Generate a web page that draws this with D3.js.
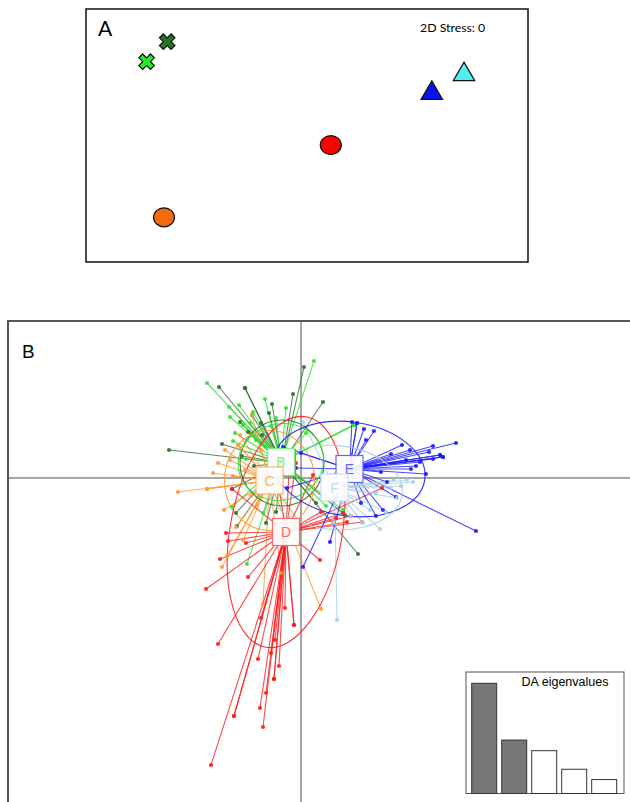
<!DOCTYPE html>
<html>
<head>
<meta charset="utf-8">
<script src="https://cdn.jsdelivr.net/npm/d3@7"></script>
<style>
  body { margin: 0; background: #fff; }
  svg { display: block; }
</style>
</head>
<body>
<div id="chart"></div>
<script>
(function () {

  // ---- panel A: NMDS of group centroids ----
  var nmdsSites = ['A', 'B', 'C', 'D', 'E', 'F'];
  var nmds1 = [-0.699, -0.802, -0.715, 0.119, 0.624, 0.785];
  var nmds2 = [0.469, 0.369, -0.409, -0.048, 0.211, 0.305];
  var nmdsStress = 0;

  // ---- panel B: DAPC scatter ----
  var groups = ['A', 'B', 'C', 'D', 'E', 'F'];
  var centroidLD1 = [-1.9, -2.0, -3.15, -1.5, 4.85, 3.35];
  var centroidLD2 = [1.5, 1.6, -0.25, -5.4, 0.9, -0.95];

  // individual scores per group, [LD1, LD2]
  var scoresA = [[-8.2, 9.1], [-5.6, 9.0], [-2.9, 7.4], [0.3, 11.1], [2.2, 7.6], [-13.2, 2.8],
    [5.7, -7.6], [-6.4, -4.8], [-6.9, -1.1], [-7.9, 3.4], [-4.9, 6.3], [-6.5, -3.5],
    [-5.3, 4.6], [-6.1, 5.6], [-3.9, 4.3], [4.4, -3.7], [-4.0, 5.5], [-3.2, 6.5], [-5.9, 2.2],
    [-4.7, 1.2], [-2.5, -3.4], [1.5, -2.5], [-0.8, 8.4], [-3.5, -4.5], [-5.6, 9.0]];
  var scoresB = [[1.3, 11.7], [-9.4, 9.5], [-7.2, 7.1], [-6.2, 7.3], [-7.1, 6.1], [-6.8, 3.7],
    [-2.5, 6.0], [5.3, 5.3], [5.3, 5.3], [-6.9, -2.9], [-5.4, -8.6], [-5.8, 5.3], [-4.5, 3.8],
    [4.2, -3.2], [-5.1, 5.5], [-3.6, 7.9], [-4.8, 6.6], [-6.6, 4.5], [-3.0, 5.2], [-5.5, 1.9],
    [-3.8, -3.5], [0.5, 4.5], [2.5, -2.8], [-1.5, 7.0], [5.3, 5.3]];
  var scoresC = [[-12.3, -1.4], [-9.4, -1.1], [-8.3, 1.5], [-7.1, 1.8], [-7.9, -8.9], [-3.8, -12.6],
    [2.0, -13.1], [-4.4, -2.7], [-6.3, 3.3], [-4.9, 6.3], [-7.4, -7.8], [-6.5, -4.9],
    [-5.6, 0.8], [-7.6, 2.8], [-6.1, 4.3], [-0.3, -4.2], [-6.8, 0.2], [-5.0, -1.8], [-7.7, -3.2],
    [-5.8, -6.2], [-2.0, -9.5], [-6.0, 3.0], [-4.0, 2.8], [-8.8, 0.5], [-9.4, -1.1]];
  var scoresD = [[-8.3, -16.6], [-4.3, -18.1], [-2.7, -20.1], [-0.7, -14.7], [-6.7, -23.8],
    [-4.1, -23.0], [-3.8, -24.9], [-9.0, -28.7], [-7.3, -6.3], [-8.1, -8.1], [-5.3, -9.9],
    [-9.5, -11.1], [1.9, -8.2], [4.6, -4.4], [6.1, -4.4], [4.2, -3.5], [8.1, -1.0], [1.2, 0.3],
    [-1.1, 2.8], [-2.5, 0.8], [-6.9, -1.1], [-2.6, -16.2], [-2.7, -20.1], [-3.0, -17.5],
    [-2.2, -18.8], [-3.5, -21.5], [-1.6, -13.0], [-5.5, -6.5], [-7.5, -5.5], [3.5, -4.0],
    [2.0, -3.4], [-0.5, 1.5], [5.0, -3.8], [-4.0, -14.0], [-0.7, -14.7], [-6.7, -23.8]];
  var scoresE = [[5.1, 5.6], [5.6, 5.5], [6.3, 4.9], [7.3, 4.7], [10.1, 3.3], [13.2, 3.2],
    [15.5, 3.5], [13.9, 2.3], [14.2, 2.1], [13.2, 1.9], [12.5, 0.4], [8.6, -0.4], [9.5, -1.9],
    [8.2, -3.2], [17.5, -5.3], [0.2, -8.9], [2.9, -6.4], [-1.8, 3.1], [-1.4, -1.0], [10.9, 2.8],
    [11.9, 1.6], [10.5, 1.8], [11.5, 1.2], [12.8, 2.6], [9.0, 2.4], [6.0, -2.5], [7.5, -3.8],
    [3.5, -2.0], [0.0, 2.5], [-0.5, 1.0], [8.0, 0.6], [11.0, 0.9], [6.5, 3.8], [13.9, 2.3],
    [5.6, 5.5], [14.2, 2.1]];
  var scoresF = [[3.6, -14.2], [7.9, -5.1], [6.1, -4.4], [11.2, -0.4], [10.6, -0.2], [0.2, 5.6],
    [9.6, -2.0], [6.2, -4.5], [3.2, -4.5], [9.3, -0.2], [6.9, -3.2], [7.5, -1.5], [8.5, -3.4],
    [5.0, -3.8], [9.0, -1.0], [4.0, -2.5], [10.0, -0.8], [2.0, -2.0]];
  var scores = [scoresA, scoresB, scoresC, scoresD, scoresE, scoresF];

  // 95% inertia ellipses: semi-axes (LD units) and rotation (degrees)
  var ellipseAxis1 = [4.2, 4.3, 4.5, 5.6, 7.6, 6.8];
  var ellipseAxis2 = [4.3, 3.8, 5.0, 11.7, 4.7, 4.2];
  var ellipseAngle = [0, -15, 0, 10, 8, 5];

  var eigenvalues = [33.2, 16.1, 12.9, 7.3, 4.2];
  var eigenRetained = 2;

  var colorsA = ['#267326', '#22ee22', '#f26b10', '#ff0000', '#0a14e8', '#55eeee'];
  var colorsB = ['#2f6f2f', '#33e033', '#ff9933', '#ff1a1a', '#1a1aff', '#a6cee3'];
  var labelColors = ['#6f9f6f', '#7fee7f', '#ffb366', '#ff6666', '#6666ee', '#c4dff0'];

  var width = 630, height = 802;

  var svg = d3.select('#chart')
    .append('svg')
    .attr('width', width)
    .attr('height', height)

  // ================= panel A =================
  var boxA = { left: 86, top: 9, right: 528, bottom: 262 };

  var xA = d3.scaleLinear().domain([-1.105, 1.105]).range([boxA.left, boxA.right])
  var yA = d3.scaleLinear().domain([-0.6325, 0.6325]).range([boxA.bottom, boxA.top])

  var gA = svg.append('g')

  gA.append('rect')
    .attr('x', boxA.left)
    .attr('y', boxA.top)
    .attr('width', boxA.right - boxA.left)
    .attr('height', boxA.bottom - boxA.top)
    .attr('fill', 'white')
    .attr('stroke', '#111')
    .attr('stroke-width', 1.5)

  gA.append('text')
    .attr('x', 98)
    .attr('y', 36)
    .attr('font-family', 'Lato, "Open Sans", sans-serif')
    .attr('font-size', 21)
    .text('A')

  gA.append('text')
    .attr('x', 420)
    .attr('y', 32)
    .attr('font-family', 'Lato, "Open Sans", sans-serif')
    .attr('font-size', 12.3)
    .text('2D Stress: ' + nmdsStress)

  var shapeA = [d3.symbolCross, d3.symbolCross, null, null, d3.symbolTriangle, d3.symbolTriangle]

  gA.selectAll('.site')
    .data(nmdsSites)
    .enter()
    .each(function (d, i) {
      var g = d3.select(this)
      var cx = xA(nmds1[i]), cy = yA(nmds2[i])
      if (shapeA[i] === null) {
        g.append('ellipse')
          .attr('cx', cx).attr('cy', cy)
          .attr('rx', 10.5).attr('ry', 9.5)
          .attr('fill', colorsA[i])
          .attr('stroke', '#111')
          .attr('stroke-width', 1.2)
      } else {
        g.append('path')
          .attr('d', d3.symbol().type(shapeA[i]).size(shapeA[i] === d3.symbolCross ? 150 : 200)())
          .attr('transform', 'translate(' + cx + ',' + cy + ')' + (shapeA[i] === d3.symbolCross ? ' rotate(45)' : ''))
          .attr('fill', colorsA[i])
          .attr('stroke', '#111')
          .attr('stroke-width', 1.2)
      }
    })

  // ================= panel B =================
  var boxB = { left: 8, top: 321 };

  var xB = d3.scaleLinear().domain([-29.3, 32.9]).range([8, 630])
  var yB = d3.scaleLinear().domain([-32.4, 15.7]).range([802, 321])
  var unit = xB(1) - xB(0)

  svg.append('clipPath')
    .attr('id', 'clipB')
    .append('rect')
    .attr('x', boxB.left).attr('y', boxB.top)
    .attr('width', width - boxB.left).attr('height', height - boxB.top)

  var gB = svg.append('g').attr('clip-path', 'url(#clipB)')

  // axes through the origin
  gB.append('line')
    .attr('x1', xB(0)).attr('x2', xB(0))
    .attr('y1', boxB.top).attr('y2', height)
    .attr('stroke', '#8a8a8a').attr('stroke-width', 1.5)
  gB.append('line')
    .attr('x1', boxB.left).attr('x2', width)
    .attr('y1', yB(0)).attr('y2', yB(0))
    .attr('stroke', '#8a8a8a').attr('stroke-width', 1.5)

  // star lines from centroid to each individual
  groups.forEach(function (grp, i) {
    var cx = xB(centroidLD1[i]), cy = yB(centroidLD2[i])
    gB.append('g')
      .selectAll('line')
      .data(scores[i])
      .enter().append('line')
      .attr('x1', cx).attr('y1', cy)
      .attr('x2', function (d) { return xB(d[0]) })
      .attr('y2', function (d) { return yB(d[1]) })
      .attr('stroke', colorsB[i])
      .attr('stroke-opacity', 0.8)
      .attr('stroke-width', 1.1)
  })

  // ellipses
  groups.forEach(function (grp, i) {
    gB.append('ellipse')
      .attr('cx', 0).attr('cy', 0)
      .attr('rx', ellipseAxis1[i] * unit)
      .attr('ry', ellipseAxis2[i] * unit)
      .attr('transform', 'translate(' + xB(centroidLD1[i]) + ',' + yB(centroidLD2[i]) + ') rotate(' + ellipseAngle[i] + ')')
      .attr('fill', 'none')
      .attr('stroke', colorsB[i])
      .attr('stroke-opacity', 0.9)
      .attr('stroke-width', 1.1)
  })

  // points
  groups.forEach(function (grp, i) {
    gB.append('g')
      .selectAll('circle')
      .data(scores[i])
      .enter().append('circle')
      .attr('cx', function (d) { return xB(d[0]) })
      .attr('cy', function (d) { return yB(d[1]) })
      .attr('r', 2.1)
      .attr('fill', colorsB[i])
      .attr('fill-opacity', 0.9)
  })

  // group labels
  var labels = gB.selectAll('.lab')
    .data(groups)
    .enter().append('g')
    .attr('class', 'lab')
    .attr('transform', function (d, i) {
      return 'translate(' + xB(centroidLD1[i]) + ',' + yB(centroidLD2[i]) + ')'
    })

  labels.append('rect')
    .attr('x', -13.5).attr('y', -13.5)
    .attr('width', 27).attr('height', 27)
    .attr('fill', 'white')
    .attr('fill-opacity', 0.92)
    .attr('stroke', function (d, i) { return labelColors[i] })
    .attr('stroke-width', 1.2)

  labels.append('text')
    .attr('text-anchor', 'middle')
    .attr('dy', '0.36em')
    .attr('font-family', '"Liberation Sans", Arial, sans-serif')
    .attr('font-size', 14)
    .attr('fill', function (d, i) { return labelColors[i] })
    .text(function (d) { return d })

  // frame (right/bottom edges run off the page)
  svg.append('rect')
    .attr('x', boxB.left).attr('y', boxB.top)
    .attr('width', 700).attr('height', 600)
    .attr('fill', 'none')
    .attr('stroke', '#555')
    .attr('stroke-width', 2)

  svg.append('text')
    .attr('x', 22)
    .attr('y', 358)
    .attr('font-family', '"Liberation Sans", Arial, sans-serif')
    .attr('font-size', 19)
    .text('B')

  // ---- DA eigenvalues inset ----
  var inset = { left: 466, top: 672, right: 624, bottom: 793.5 };

  var gE = svg.append('g')

  gE.append('rect')
    .attr('x', inset.left).attr('y', inset.top)
    .attr('width', inset.right - inset.left)
    .attr('height', inset.bottom - inset.top)
    .attr('fill', 'white')
    .attr('stroke', '#555')
    .attr('stroke-width', 1)

  var xE = d3.scaleBand()
    .domain(d3.range(eigenvalues.length))
    .range([469.2, 619.2])
    .paddingInner(1 / 6)
    .paddingOuter(1 / 12)

  var yE = d3.scaleLinear()
    .domain([0, d3.max(eigenvalues)])
    .range([inset.bottom, 683.3])

  gE.selectAll('.bar')
    .data(eigenvalues)
    .enter().append('rect')
    .attr('class', 'bar')
    .attr('x', function (d, i) { return xE(i) })
    .attr('width', xE.bandwidth())
    .attr('y', function (d) { return yE(d) })
    .attr('height', function (d) { return yE(0) - yE(d) })
    .attr('fill', function (d, i) { return i < eigenRetained ? '#777' : 'white' })
    .attr('stroke', '#333')
    .attr('stroke-width', 1)

  gE.append('text')
    .attr('x', 565)
    .attr('y', 686)
    .attr('text-anchor', 'middle')
    .attr('font-family', '"Liberation Sans", Arial, sans-serif')
    .attr('font-size', 12.5)
    .text('DA eigenvalues')

})()
</script>
</body>
</html>
